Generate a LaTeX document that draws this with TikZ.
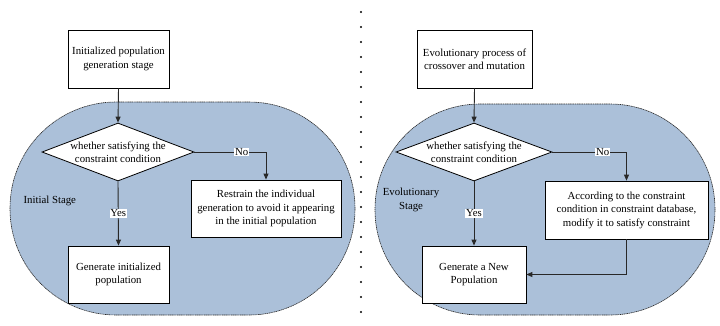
\documentclass[tikz,border=0pt]{standalone}
\usepackage{fontspec}
\setmainfont{Liberation Serif}
\usetikzlibrary{arrows.meta,shapes.geometric}

\definecolor{stagefill}{RGB}{171,192,217}
\definecolor{linegray}{RGB}{40,40,40}

\tikzset{
  txt/.style={font=\fontsize{10.8}{13.5}\selectfont, align=center},
  procbox/.style={txt, draw=black, line width=0.8pt, fill=white, inner sep=2pt},
  decision/.style={diamond, draw=black, line width=0.8pt, fill=white, inner sep=0pt},
  stage/.style={fill=stagefill, draw=linegray, line width=0.6pt, dash pattern=on 1.2pt off 0.6pt},
  flow/.style={draw=linegray, line width=0.9pt, -{Triangle[length=6pt,width=5pt]}},
  tag/.style={txt, fill=white, inner sep=0.8pt},
  stagelabel/.style={txt}
}

\begin{document}
\begin{tikzpicture}[x=1pt,y=1pt]
\useasboundingbox (0,0) rectangle (720,-325);

% rounded stage regions
\draw[stage, rounded corners=106pt] (10,-102) rectangle (355,-315);
\draw[stage, rounded corners=105pt] (375,-104) rectangle (715,-315);

% dotted divider between the two stages
\foreach \k in {0,...,20}
  \fill[black] (361,-12-15*\k) circle (1.1pt);

% ---- initial stage ----
\node[procbox, minimum width=101pt, minimum height=58pt] (topL) at (118.5,-59)
  {Initialized population\\generation stage};
\node[decision, minimum width=152pt, minimum height=58pt,
      label={[txt]center:whether satisfying the\\constraint condition}] (dL) at (118,-152) {};
\node[procbox, minimum width=150pt, minimum height=57pt] (resL) at (266,-208.5)
  {Restrain the individual\\generation to avoid it appearing\\in the initial population};
\node[procbox, minimum width=101pt, minimum height=57pt] (genL) at (118.5,-274.5)
  {Generate initialized\\population};
\node[stagelabel, anchor=west] (stL) at (20,-201) {Initial Stage};

\draw[flow] (topL.south) -- (dL.north);
\draw[flow] (dL.east) -| node[tag, pos=0.33] {No} (resL.north);
\draw[flow] (dL.south) -- node[tag] {Yes} (genL.north);

% ---- evolutionary stage ----
\node[procbox, minimum width=115pt, minimum height=58pt] (topR) at (474.5,-59)
  {Evolutionary process of\\crossover and mutation};
\node[decision, minimum width=156pt, minimum height=58pt,
      label={[txt]center:whether satisfying the\\constraint condition}] (dR) at (474,-152) {};
\node[procbox, minimum width=163pt, minimum height=58pt] (modR) at (626.5,-210)
  {According to the constraint\\condition in constraint database,\\modify it to satisfy constraint};
\node[procbox, minimum width=104pt, minimum height=57pt] (genR) at (474,-274.5)
  {Generate a New\\Population};
\node[stagelabel] (stR) at (411,-200) {Evolutionary\\Stage};

\draw[flow] (topR.south) -- (dR.north);
\draw[flow] (dR.east) -| node[tag, pos=0.34] {No} (modR.north);
\draw[flow] (dR.south) -- node[tag] {Yes} (genR.north);
\draw[flow] (modR.south) |- (genR.east);
\end{tikzpicture}
\end{document}
